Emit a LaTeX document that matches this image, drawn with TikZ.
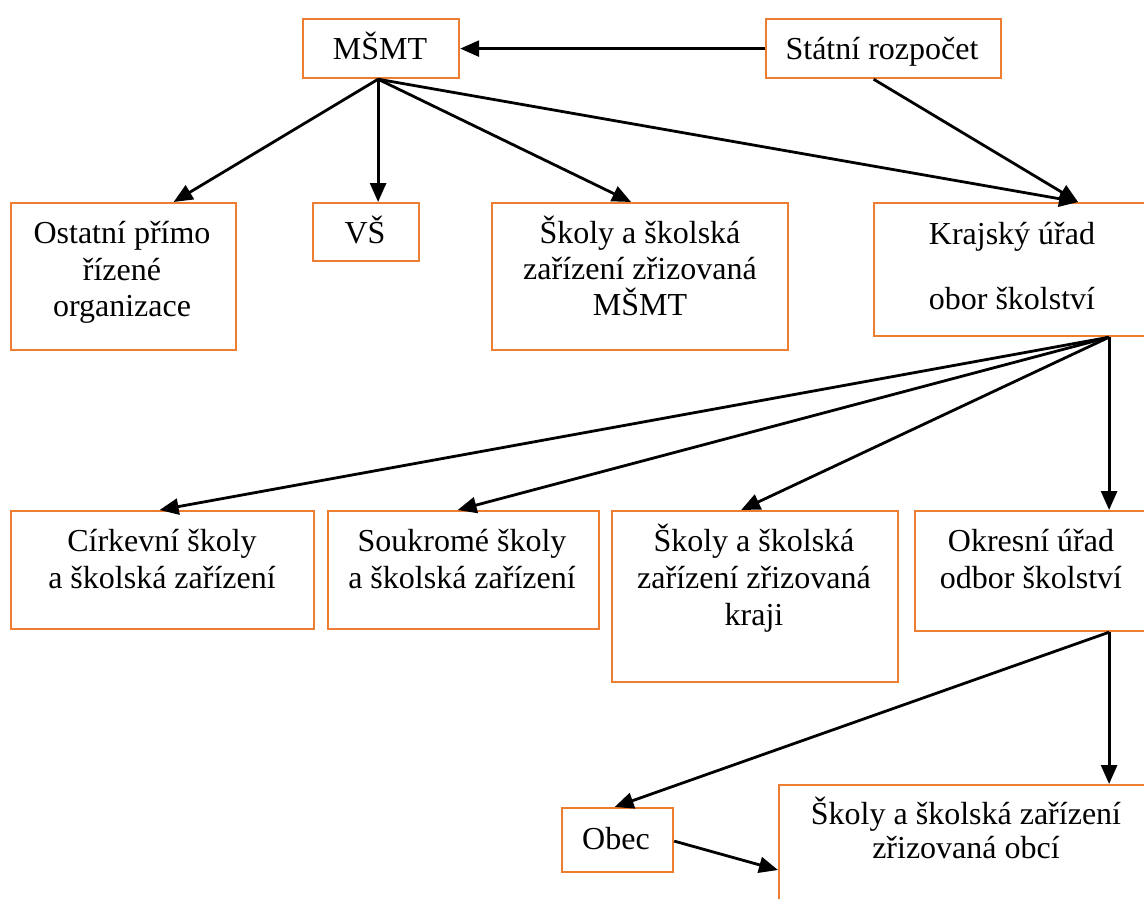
\documentclass[tikz,border=0pt]{standalone}
\usepackage{fontspec}
\setmainfont{Liberation Serif}
\usetikzlibrary{arrows.meta,calc}
\definecolor{boxorange}{RGB}{237,125,49}
\begin{document}
\begin{tikzpicture}[x=1pt,y=-1pt,
  box/.style={draw=boxorange,line width=2.2pt,fill=none,inner sep=0pt,anchor=north west},
  txt/.style={anchor=base,inner sep=0pt,font=\fontsize{32}{37}\selectfont},
  arr/.style={line width=2.8pt,-{Triangle[length=19pt,width=16pt]}}]
\useasboundingbox (0,0) rectangle (1144,898);
\fill[white] (0,0) rectangle (1144,898);
\clip (0,0) rectangle (1144,898);
% boxes
\node[box,minimum width=156pt,minimum height=59pt] (msmt) at (302,18) {};
\node[box,minimum width=235pt,minimum height=59pt] (sr) at (765,18) {};
\node[box,minimum width=225pt,minimum height=147pt] (ost) at (10,202) {};
\node[box,minimum width=106pt,minimum height=58pt] (vs) at (312,202) {};
\node[box,minimum width=296pt,minimum height=147pt] (smsmt) at (491,202) {};
\node[box,minimum width=300pt,minimum height=133pt] (kraj) at (873,202) {};
\node[box,minimum width=303pt,minimum height=118pt] (cirk) at (10,510) {};
\node[box,minimum width=271pt,minimum height=118pt] (souk) at (327,510) {};
\node[box,minimum width=286pt,minimum height=171pt] (skraj) at (611,510) {};
\node[box,minimum width=260pt,minimum height=120pt] (okr) at (914,510) {};
\node[box,minimum width=111pt,minimum height=64pt] (obec) at (561,807) {};
\node[box,minimum width=400pt,minimum height=200pt] (sobec) at (778,784) {};
% texts
\node[txt] (tmsmt) at (380,59) {MŠMT};
\node[txt] (tsr) at (882,59) {Státní rozpočet};
\node[txt] (tost1) at (122,243) {Ostatní přímo};
\node[txt] (tost2) at (122,280) {řízené};
\node[txt] (tost3) at (122,316) {organizace};
\node[txt] (tvs) at (365,243) {VŠ};
\node[txt] (tsm1) at (640,243) {Školy a školská};
\node[txt] (tsm2) at (640,279) {zařízení zřizovaná};
\node[txt] (tsm3) at (640,315) {MŠMT};
\node[txt] (tkr1) at (1012,244) {Krajský úřad};
\node[txt] (tkr2) at (1012,309) {obor školství};
\node[txt] (tci1) at (162,551) {Církevní školy};
\node[txt] (tci2) at (162,588) {a školská zařízení};
\node[txt] (tso1) at (462,551) {Soukromé školy};
\node[txt] (tso2) at (462,588) {a školská zařízení};
\node[txt] (tsk1) at (754,551) {Školy a školská};
\node[txt] (tsk2) at (754,588) {zařízení zřizovaná};
\node[txt] (tsk3) at (754,625) {kraji};
\node[txt] (tok1) at (1031,551) {Okresní úřad};
\node[txt] (tok2) at (1031,588) {odbor školství};
\node[txt] (tob) at (616,849) {Obec};
\node[txt] (tsob1) at (966,824) {Školy a školská zařízení};
\node[txt] (tsob2) at (966,858) {zřizovaná obcí};
% connector points
\coordinate (msmtS) at ([xshift=-3pt]msmt.south);
\coordinate (krajS) at ([xshift=85pt]kraj.south);
\coordinate (okrS) at (krajS |- okr.south);
\coordinate (krajT) at ([xshift=54pt]kraj.north);
% connectors
\draw[arr] (sr.west) -- (msmt.east);
\draw[arr] (msmtS) -- ([xshift=50pt]ost.north);
\draw[arr] (msmtS) -- (msmtS |- vs.north);
\draw[arr] (msmtS) -- ([xshift=-9pt]smsmt.north);
\draw[arr] (msmtS) -- (krajT);
\draw[arr] ([xshift=-10pt]sr.south) -- (krajT);
\draw[arr] (krajS) -- ([xshift=-3pt]cirk.north);
\draw[arr] (krajS) -- ([xshift=-6pt]souk.north);
\draw[arr] (krajS) -- ([xshift=-14pt]skraj.north);
\draw[arr] (krajS) -- (krajS |- okr.north);
\draw[arr] (okrS) -- ([xshift=-3pt]obec.north);
\draw[arr] (okrS) -- (okrS |- sobec.north);
\draw[arr] ([yshift=-1pt]obec.east) -- ($(sobec.north west)+(0,86)$);
\end{tikzpicture}
\end{document}
